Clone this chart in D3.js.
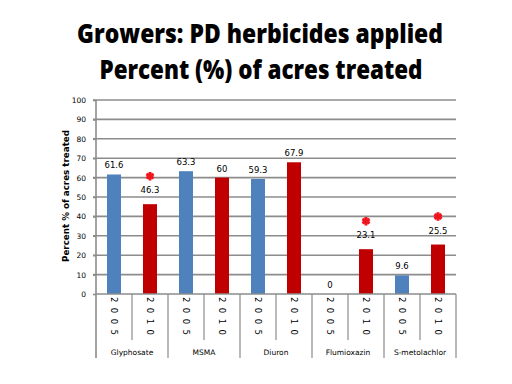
<!DOCTYPE html>
<html>
<head>
<meta charset="utf-8">
<script src="https://cdn.jsdelivr.net/npm/d3@7"></script>
<style>
body { margin: 0; background: #fff; }
text { font-family: "DejaVu Sans", sans-serif; }
</style>
</head>
<body>
<div id="chart"></div>
<script>
var herbicides = ["Glyphosate", "MSMA", "Diuron", "Flumioxazin", "S-metolachlor"];
var years = ["2005", "2010"];
var values2005 = [61.6, 63.3, 59.3, 0, 9.6];
var values2010 = [46.3, 60, 67.9, 23.1, 25.5];
var starred2010 = [true, false, false, true, true];
var yTicks = [0, 10, 20, 30, 40, 50, 60, 70, 80, 90, 100];

var width = 512, height = 384;
var svg = d3.select("#chart").append("svg")
    .attr("width", width)
    .attr("height", height);

// title
svg.append("text")
    .attr("x", 260).attr("y", 43)
    .attr("text-anchor", "middle")
    .attr("textLength", 366)
    .attr("lengthAdjust", "spacingAndGlyphs")
    .style("font-family", "'Open Sans', sans-serif")
    .style("font-weight", "800")
    .style("font-size", "27px")
    .text("Growers: PD herbicides applied");
svg.append("text")
    .attr("x", 261).attr("y", 79)
    .attr("text-anchor", "middle")
    .attr("textLength", 323)
    .attr("lengthAdjust", "spacingAndGlyphs")
    .style("font-family", "'Open Sans', sans-serif")
    .style("font-weight", "800")
    .style("font-size", "27px")
    .text("Percent (%) of acres treated");

// one row per bar
var bars = [];
herbicides.forEach(function(h, i) {
    bars.push({herb: h, year: years[0], value: values2005[i], star: false});
    bars.push({herb: h, year: years[1], value: values2010[i], star: starred2010[i]});
});

var x = d3.scaleBand()
    .domain(d3.range(bars.length))
    .range([96, 456])
    .paddingInner(0)
    .paddingOuter(0);

var y = d3.scaleLinear()
    .domain([0, 100])
    .range([294, 100]);

// gridlines
svg.append("g")
    .selectAll("line")
    .data(yTicks.filter(function(d) { return d > 0; }))
    .enter()
    .append("line")
        .attr("x1", 93).attr("x2", 456)
        .attr("y1", function(d) { return y(d); })
        .attr("y2", function(d) { return y(d); })
        .attr("stroke", "#8c8c8c")
        .attr("stroke-width", 1.6);

var yAxis = svg.append("g")
    .attr("transform", "translate(96,0)")
    .call(d3.axisLeft(y).tickValues(yTicks).tickSize(3).tickPadding(7));
yAxis.select(".domain").remove();
yAxis.selectAll(".tick line").attr("stroke", "#8c8c8c").attr("stroke-width", 1.6);
yAxis.selectAll(".tick text")
    .style("font-size", "7.5px")
    .style("font-family", "'DejaVu Sans', sans-serif")
    .attr("fill", "#000");

// y axis title, squeezed vertically
svg.append("text")
    .attr("transform", "translate(69,262) rotate(-90)")
    .attr("textLength", 132)
    .attr("lengthAdjust", "spacingAndGlyphs")
    .style("font-size", "8px")
    .style("font-weight", "bold")
    .text("Percent % of acres treated");

// bars
svg.selectAll("rect.bar")
    .data(bars)
    .enter()
    .append("rect")
        .attr("class", "bar")
        .attr("x", function(d, i) { return x(i) + 11; })
        .attr("width", 14)
        .attr("y", function(d) { return y(d.value); })
        .attr("height", function(d) { return y(0) - y(d.value); })
        .attr("fill", function(d) { return d.year == "2005" ? "#4f81bd" : "#c00000"; });

// value labels
svg.selectAll("text.val")
    .data(bars)
    .enter()
    .append("text")
        .attr("class", "val")
        .attr("x", function(d, i) { return x(i) + x.bandwidth() / 2; })
        .attr("y", function(d) { return y(d.value) - (d.star ? 11 : 6); })
        .attr("text-anchor", "middle")
        .style("font-size", "8.5px")
        .text(function(d) { return d.value; });

// significance asterisks
svg.selectAll("path.star")
    .data(bars.filter(function(d) { return d.star; }))
    .enter()
    .append("path")
        .attr("class", "star")
        .attr("d", d3.symbol(d3.symbolAsterisk, 50))
        .attr("transform", function(d) {
            var i = bars.indexOf(d);
            return "translate(" + (x(i) + x.bandwidth() / 2) + "," + (y(d.value) - 28) + ")";
        })
        .attr("fill", "none")
        .attr("stroke", "#f0141c")
        .attr("stroke-width", 3);

// left axis line
svg.append("line")
    .attr("x1", 96).attr("x2", 96)
    .attr("y1", 100).attr("y2", 358)
    .attr("stroke", "#8c8c8c")
    .attr("stroke-width", 1.6);

// x axis line
svg.append("line")
    .attr("x1", 96).attr("x2", 456)
    .attr("y1", 294).attr("y2", 294)
    .attr("stroke", "#8c8c8c")
    .attr("stroke-width", 1.6);

// category separators
svg.selectAll("line.sep")
    .data(d3.range(1, bars.length + 1))
    .enter()
    .append("line")
        .attr("class", "sep")
        .attr("x1", function(i) { return i < bars.length ? x(i) : 456; })
        .attr("x2", function(i) { return i < bars.length ? x(i) : 456; })
        .attr("y1", 294)
        .attr("y2", function(i) { return i % 2 == 0 ? 358 : 340; })
        .attr("stroke", "#8c8c8c")
        .attr("stroke-width", 1.2);

// year labels
svg.selectAll("text.year")
    .data(bars)
    .enter()
    .append("text")
        .attr("class", "year")
        .attr("transform", function(d, i) {
            return "translate(" + (x(i) + x.bandwidth() / 2 - 3) + ",297) rotate(90)";
        })
        .attr("textLength", 38)
        .attr("lengthAdjust", "spacing")
        .style("font-size", "8.5px")
        .text(function(d) { return d.year; });

// herbicide labels
svg.selectAll("text.herb")
    .data(herbicides)
    .enter()
    .append("text")
        .attr("class", "herb")
        .attr("x", function(d, i) { return x(i * 2) + x.bandwidth(); })
        .attr("y", 355)
        .attr("text-anchor", "middle")
        .style("font-size", "7.5px")
        .text(function(d) { return d; });
</script>
</body>
</html>
